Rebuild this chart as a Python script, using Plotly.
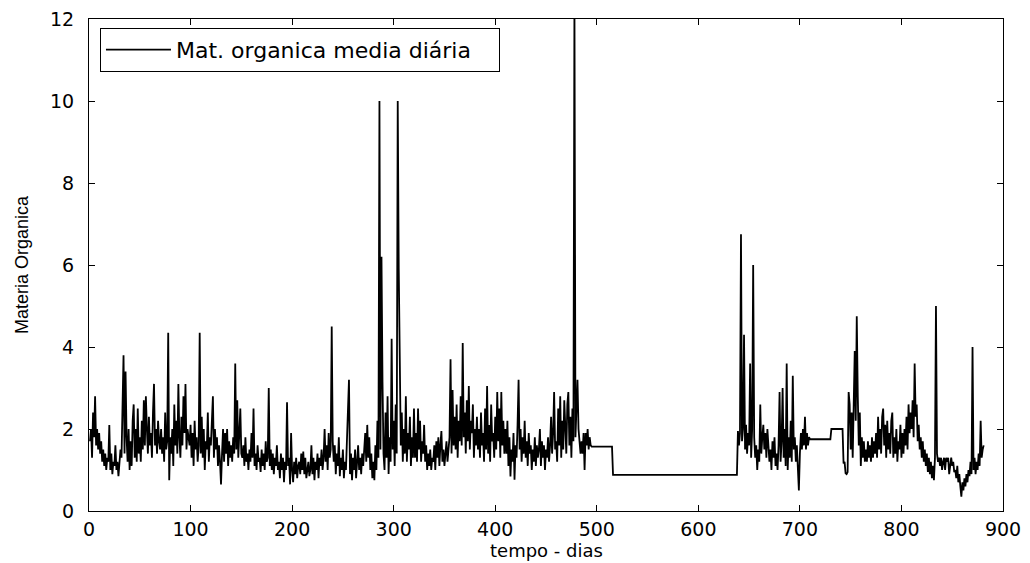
import plotly.graph_objects as go

series_name = "Mat. organica media diária"
x_title = "tempo - dias"
y_title = "Materia Organica"
x_ticks = [0, 100, 200, 300, 400, 500, 600, 700, 800, 900]
y_ticks = [0, 2, 4, 6, 8, 10, 12]

# daily values (days 1..)
vals_000 = [
    1.7, 2.0, 1.3, 2.4, 1.8, 2.8, 1.6, 2.0, 1.5, 1.9,
    1.4, 1.7, 1.2, 1.5, 1.1, 1.4, 1.0, 1.3, 1.2, 2.1,
    1.0, 1.4, 0.9, 1.2, 1.1, 1.6, 1.0, 1.2, 0.85, 1.1,
    1.5, 1.3, 2.4, 3.8, 1.4, 3.4, 1.8, 1.2, 2.0, 1.0,
    1.7, 1.1, 2.2, 2.6, 1.3, 2.0, 1.2, 2.5, 1.4, 1.8,
    1.2, 2.2, 1.5, 2.7, 1.6, 2.8, 2.0, 1.4, 2.3, 1.6,
    1.9, 1.3, 2.4, 3.1, 1.6, 2.0, 1.4, 2.2, 1.7, 1.5,
    2.0, 1.4, 1.8, 1.2, 2.4, 1.5, 1.7, 4.35, 0.75, 1.8,
    1.4, 2.0, 1.1, 2.6, 1.6, 2.2, 1.4, 3.1, 1.8, 1.3,
    2.3, 1.6, 2.8, 1.9, 3.1, 1.5, 2.0, 1.7, 1.6, 2.1,
]
vals_100 = [
    1.3, 1.9, 1.1, 2.2, 1.5, 1.8, 1.2, 1.6, 4.35, 1.4,
    2.3, 1.3, 2.0, 1.0, 1.7, 1.5, 2.4, 1.2, 1.8, 1.6,
    2.2, 2.8, 1.3, 2.0, 1.5, 1.8, 1.1, 1.6, 1.2, 0.65,
    1.4, 2.0, 1.2, 1.9, 1.4, 2.0, 1.1, 1.7, 1.3, 1.6,
    1.2, 1.8, 1.4, 3.6, 1.5, 2.7, 1.3, 1.9, 2.5, 1.4,
    1.3, 1.6, 1.1, 1.8, 1.2, 1.4, 1.0, 1.5, 1.2, 1.9,
    1.3, 2.5, 1.1, 1.4, 1.0, 1.6, 1.2, 1.3, 0.95, 1.5,
    1.1, 1.4, 1.0, 1.7, 1.2, 1.3, 3.0, 1.1, 1.5, 1.0,
    1.4, 0.9, 1.3, 1.1, 1.6, 1.0, 1.2, 0.8, 1.4, 1.0,
    1.3, 0.7, 1.2, 1.0, 2.65, 1.1, 1.3, 0.65, 1.9, 1.0,
]
vals_200 = [
    0.7, 1.2, 0.9, 1.3, 0.8, 1.1, 1.2, 0.9, 1.4, 1.0,
    1.45, 0.9, 1.3, 0.8, 1.1, 1.2, 0.85, 1.0, 1.6, 0.9,
    1.3, 0.75, 1.2, 1.0, 1.4, 0.8, 1.3, 1.1, 1.5, 1.0,
    1.3, 2.0, 1.2, 1.6, 1.0, 1.9, 1.3, 1.5, 4.5, 1.7,
    1.2, 1.6, 0.9, 1.4, 1.1, 1.8, 0.85, 1.3, 1.0, 1.5,
    0.8, 1.2, 1.0, 1.6, 2.4, 3.2, 0.9, 1.4, 0.75, 1.3,
    1.0, 1.5, 0.8, 1.2, 1.6, 1.0, 1.3, 0.9, 1.4, 1.1,
    1.5, 1.9, 1.2, 2.1, 1.3, 1.8, 1.0, 1.4, 0.8, 1.2,
    0.75, 1.6, 1.0, 2.2, 1.3, 10.0, 1.5, 6.2, 3.15, 1.4,
    1.0, 2.4, 1.3, 2.8, 0.9, 1.8, 1.2, 4.2, 1.5, 2.2,
]
vals_300 = [
    1.1, 2.6, 1.4, 10.0, 5.9, 3.2, 1.6, 2.4, 1.2, 2.0,
    1.4, 2.8, 1.2, 1.9, 1.5, 2.3, 1.1, 1.8, 1.3, 2.5,
    1.3, 1.9, 1.2, 2.5, 1.5, 2.2, 1.2, 1.7, 1.4, 2.1,
    1.2, 1.6, 1.0, 1.4, 1.1, 1.5, 1.0, 1.3, 1.2, 1.6,
    1.0, 1.7, 1.3, 1.8, 1.1, 1.6, 1.95, 1.2, 1.5, 1.1,
    1.4, 1.7, 1.2, 1.5, 1.8, 3.7, 1.4, 2.95, 1.6, 2.3,
    1.5, 2.6, 1.3, 2.2, 1.7, 2.8, 1.6, 4.1, 1.8, 2.4,
    1.4, 2.7, 1.7, 3.05, 1.5, 2.2, 1.9, 2.6, 1.3, 2.0,
    1.6, 2.3, 1.5, 2.0, 1.3, 2.4, 1.6, 1.9, 1.2, 2.5,
    1.5, 3.05, 1.4, 2.1, 1.2, 2.6, 1.7, 1.9, 1.3, 2.3,
]
vals_400 = [
    1.5, 2.9, 1.7, 2.5, 1.3, 2.9, 1.6, 2.2, 1.4, 2.0,
    1.4, 2.2, 1.1, 1.8, 0.84, 1.5, 1.2, 1.9, 0.76, 1.6,
    1.3, 2.1, 3.2, 1.5, 2.0, 1.2, 1.8, 1.4, 2.2, 1.3,
    1.7, 1.1, 1.9, 1.4, 1.6, 1.0, 1.5, 1.2, 1.8, 1.1,
    1.6, 1.3, 1.5, 2.0, 1.1, 1.7, 1.3, 1.6, 1.0, 1.5,
    1.3, 1.8, 1.2, 1.6, 2.3, 1.4, 1.9, 2.9, 1.5, 1.7,
    1.2, 2.5, 1.6, 2.8, 1.3, 2.2, 1.5, 2.7, 1.9, 1.4,
    2.6, 2.9, 1.6, 2.3, 1.3, 2.5, 1.7, 12.5, 1.8, 2.4,
    3.2, 2.0, 1.6, 1.4, 1.7, 1.4, 1.9, 1.0, 1.9, 1.6,
    2.0, 1.5, 1.8, 1.6, 1.57, 1.57, 1.57, 1.57, 1.57, 1.57,
]
vals_500 = [
    1.57, 1.57, 1.57, 1.57, 1.57, 1.57, 1.57, 1.57, 1.57, 1.57,
    1.57, 1.57, 1.57, 1.57, 1.57, 0.88, 0.88, 0.88, 0.88, 0.88,
    0.88, 0.88, 0.88, 0.88, 0.88, 0.88, 0.88, 0.88, 0.88, 0.88,
    0.88, 0.88, 0.88, 0.88, 0.88, 0.88, 0.88, 0.88, 0.88, 0.88,
    0.88, 0.88, 0.88, 0.88, 0.88, 0.88, 0.88, 0.88, 0.88, 0.88,
    0.88, 0.88, 0.88, 0.88, 0.88, 0.88, 0.88, 0.88, 0.88, 0.88,
    0.88, 0.88, 0.88, 0.88, 0.88, 0.88, 0.88, 0.88, 0.88, 0.88,
    0.88, 0.88, 0.88, 0.88, 0.88, 0.88, 0.88, 0.88, 0.88, 0.88,
    0.88, 0.88, 0.88, 0.88, 0.88, 0.88, 0.88, 0.88, 0.88, 0.88,
    0.88, 0.88, 0.88, 0.88, 0.88, 0.88, 0.88, 0.88, 0.88, 0.88,
]
vals_600 = [
    0.88, 0.88, 0.88, 0.88, 0.88, 0.88, 0.88, 0.88, 0.88, 0.88,
    0.88, 0.88, 0.88, 0.88, 0.88, 0.88, 0.88, 0.88, 0.88, 0.88,
    0.88, 0.88, 0.88, 0.88, 0.88, 0.88, 0.88, 0.88, 0.88, 0.88,
    0.88, 0.88, 0.88, 0.88, 0.88, 0.88, 0.88, 0.88, 1.95, 1.6,
    1.9, 6.75, 1.7, 2.0, 4.3, 1.5, 2.1, 1.4, 1.9, 1.6,
    3.6, 1.3, 2.0, 6.0, 1.8, 1.3, 1.6, 1.0, 1.5, 1.2,
    2.6, 1.4, 1.8, 2.1, 1.5, 1.9, 1.3, 2.0, 1.6, 1.2,
    1.5, 1.0, 1.7, 1.3, 1.8, 1.1, 1.4, 1.0, 1.6, 2.9,
    1.2, 1.7, 3.0, 1.3, 2.0, 1.1, 3.6, 1.0, 1.8, 1.3,
    2.2, 1.2, 3.3, 1.5, 1.8, 1.2, 1.6, 1.0, 0.5, 1.4,
]
vals_700 = [
    1.9, 1.5, 2.0, 1.6, 2.3, 1.5, 1.9, 1.6, 1.8, 1.75,
    1.75, 1.75, 1.75, 1.75, 1.75, 1.75, 1.75, 1.75, 1.75, 1.75,
    1.75, 1.75, 1.75, 1.75, 1.75, 1.75, 1.75, 1.75, 1.75, 1.75,
    2.0, 2.0, 2.0, 2.0, 2.0, 2.0, 2.0, 2.0, 2.0, 2.0,
    2.0, 2.0, 1.16, 1.2, 0.92, 0.9, 0.95, 2.9, 2.6, 1.5,
    2.4, 1.3, 2.6, 3.9, 2.2, 4.75, 2.8, 1.6, 2.4, 1.1,
    1.8, 1.3, 1.7, 1.2, 1.5, 1.2, 1.7, 1.3, 1.6, 1.2,
    1.8, 1.3, 1.7, 1.4, 1.9, 1.3, 2.3, 1.5, 2.0, 1.4,
    2.3, 2.5, 1.6, 2.1, 1.3, 2.2, 1.5, 1.9, 1.4, 2.2,
    2.4, 1.3, 1.8, 1.4, 2.0, 1.2, 1.7, 1.5, 2.1, 1.3,
]
vals_800 = [
    1.9, 1.4, 2.0, 1.6, 2.3, 1.5, 2.6, 1.9, 2.4, 2.0,
    2.7, 1.8, 3.6, 2.3, 2.6, 1.7, 2.1, 1.5, 1.8, 1.3,
    1.7, 1.2, 1.5, 1.1, 1.4, 0.95, 1.3, 0.9, 1.2, 0.8,
    1.1, 0.75, 1.3, 5.0, 1.4, 1.2, 1.3, 1.1, 1.3, 1.0,
    1.2, 1.3, 1.0, 1.3, 1.2, 1.3, 0.9, 1.2, 1.3, 1.1,
    1.2, 0.95, 1.0, 0.8, 1.1, 0.7, 0.9, 0.6, 0.35, 0.7,
    0.5, 0.8, 0.6, 0.9, 0.7, 1.0, 0.85, 1.2, 0.9, 4.0,
    1.0, 1.3, 0.9, 1.2, 1.0, 1.4, 1.1, 2.2, 1.3, 1.5, 1.6,
]

values = vals_000 + vals_100 + vals_200 + vals_300 + vals_400 + vals_500 + vals_600 + vals_700 + vals_800
days = list(range(1, len(values) + 1))

fig = go.Figure()
fig.add_trace(go.Scatter(
    x=days, y=values, mode="lines", name=series_name,
    line=dict(color="black", width=1.8),
))

axis_common = dict(
    showline=True, linecolor="black", linewidth=1, mirror="allticks",
    ticks="inside", ticklen=6, tickwidth=1, tickcolor="black",
    showgrid=False, zeroline=False, automargin=False,
    ticklabeloverflow="allow",
    tickfont=dict(family="DejaVu Sans", size=19, color="black"),
)

# the page body adds an 8px offset, so the figure is sized 8px smaller
fig.update_layout(
    width=1020, height=553,
    margin=dict(l=81, r=25, t=11, b=50),
    paper_bgcolor="white", plot_bgcolor="white",
    font=dict(family="DejaVu Sans", size=18, color="black"),
    showlegend=True,
    legend=dict(
        orientation="h", entrywidth=318, entrywidthmode="pixels",
        x=0.012, y=0.982, xanchor="left", yanchor="top",
        bordercolor="black", borderwidth=1, bgcolor="white",
        font=dict(family="DejaVu Sans", size=22, color="black"),
        itemwidth=65,
    ),
    xaxis=dict(range=[0, 900], tickvals=x_ticks, ticklabelstandoff=1, **axis_common),
    yaxis=dict(
        range=[0, 12], tickvals=y_ticks, ticklabelstandoff=10,
        title=dict(text=y_title, standoff=16,
                   font=dict(family="Liberation Sans Narrow, Arial Narrow, Liberation Sans, Arial", size=18, color="black")),
        **axis_common,
    ),
    annotations=[dict(
        text=x_title, xref="paper", yref="paper", x=0.5, y=-0.081,
        xanchor="center", yanchor="middle", showarrow=False,
        font=dict(family="DejaVu Sans", size=18, color="black"),
    )],
)

fig.write_html("out.html")
